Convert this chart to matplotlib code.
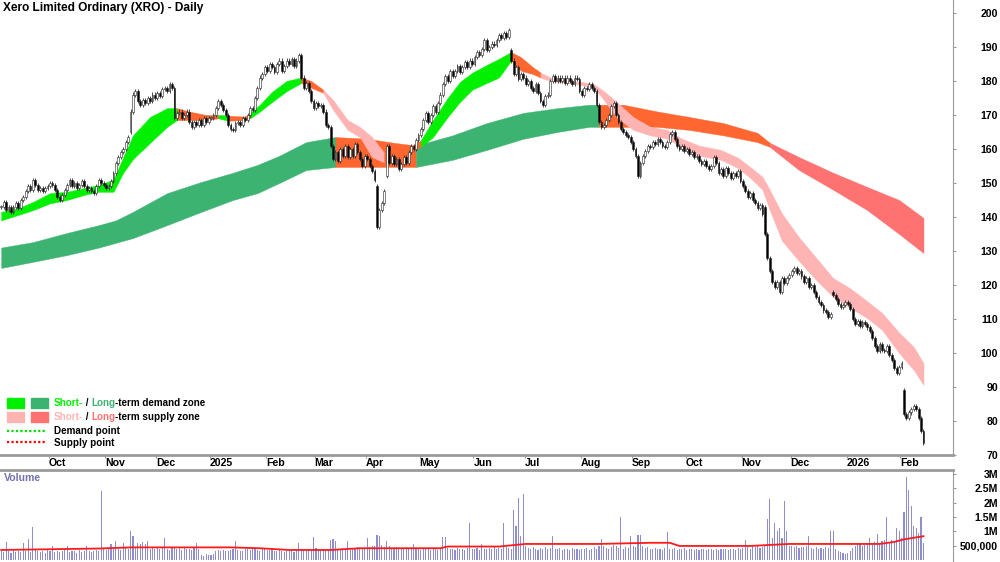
import numpy as np
import pandas as pd
import matplotlib
matplotlib.use("Agg")
import matplotlib.pyplot as plt
from matplotlib.patches import Rectangle
from matplotlib.lines import Line2D

plt.rcParams["font.family"] = ["Liberation Sans", "DejaVu Sans"]
plt.rcParams["font.weight"] = "bold"

TITLE = "Xero Limited Ordinary (XRO) - Daily"
FIRST_DAY = "2024-09-03"

# daily closes, one list per month
close_sep24 = [143, 144.5, 142, 143, 141.5, 143, 144, 142.5, 145, 146, 147.5, 149, 148, 151, 149.5, 148, 148.5, 147.5, 148.5, 149]
close_oct24 = [150, 149.5, 148, 146, 145, 146.5, 148, 149.5, 151, 149, 150, 148.5, 149.5, 150.5, 149, 148, 148.5, 147.5, 147, 149, 151, 150, 149.5]
close_nov24 = [148.5, 149, 150.5, 153, 156, 157.5, 159, 160, 162, 163.5, 171, 176, 177, 174, 173, 174.5, 173.5, 175, 174, 176, 175]
close_dec24 = [176.5, 175.5, 177.5, 178, 177, 179, 178, 169, 170.5, 171, 169, 170, 171, 168, 166.5, 168, 167, 168.5, 167, 169, 168, 169]
close_jan25 = [169, 170, 172, 174, 173, 171.5, 170, 167, 166, 165.5, 167.5, 168, 167, 169, 168.5, 170, 172, 171.5, 175, 178, 181, 182, 184]
close_feb25 = [183, 185, 184, 182.5, 185, 186, 183, 184.5, 186, 185, 186.5, 184.5, 186, 187.5, 181, 178, 179.5, 177, 174, 172]
close_mar25 = [173.5, 172.5, 173, 171, 167, 166.5, 161, 157, 159, 156.5, 160, 158, 161, 157.5, 160, 158, 161.5, 159, 157, 155, 158]
close_apr25 = [157, 155, 153.5, 151, 137, 142, 144, 147.5, 161, 156, 158, 155.5, 157, 154, 155.5, 157.5, 156, 159, 161, 160, 162.5, 164]
close_may25 = [166, 168.5, 170.5, 168, 170, 172.5, 171, 173.5, 176, 179, 181.5, 180, 183, 181.5, 183, 184.5, 182.5, 184, 185.5, 184, 186, 185]
close_jun25 = [187, 188.5, 187.5, 189.5, 192, 189, 190, 191, 190.5, 192, 193.5, 192.5, 194, 193, 195, 186, 182, 184, 180.5, 182, 181]
close_jul25 = [179, 180, 178, 177, 179, 176.5, 174, 173, 175.5, 176, 180, 181.5, 180, 181, 180, 181, 179.5, 181, 180, 179, 181, 180.5, 177]
close_aug25 = [176, 178, 177.5, 179, 178, 177, 173, 168, 166.5, 167, 168.5, 170, 172.5, 173.5, 170, 168, 166, 165, 164, 163.5, 162]
close_sep25 = [160, 158, 152, 156, 158, 159.5, 161, 160.5, 162, 161.5, 163, 162, 161, 160.5, 162, 164.5, 165, 163, 161, 160, 161, 159.5]
close_oct25 = [160, 158.5, 159, 157.5, 158, 156.5, 155.5, 156.5, 155, 154, 155, 157.5, 156, 153, 154, 152, 154.5, 153, 151.5, 153, 152, 153.5, 150.5]
close_nov25 = [149, 147.5, 146, 147, 145, 144, 142.5, 143.5, 141, 135, 128, 124, 121, 119.5, 121, 118, 122, 120.5, 122, 123]
close_dec25 = [124, 125, 123.5, 124, 122.5, 121, 122, 119.5, 120, 118, 116.5, 115, 114, 112.5, 112, 110.5, 111.5, 117, 116, 114.5, 113.5, 114, 115]
close_jan26 = [114.5, 113, 110, 108.5, 109.5, 108, 109, 108.5, 107.5, 106.5, 104.5, 102, 100.5, 102.5, 101, 100.5, 102, 99.5, 98, 95.5, 94, 96]
close_feb26 = [97, 82, 81, 82.5, 83.5, 84.5, 83.5, 81, 77, 73.5]

# opens where the bar gapped away from the previous close
gap_opens = {53: 165, 154: 149, 158: 152, 209: 189, 313: 143, 341: 118, 370: 89}

# daily volume, thousands of shares
vol_sep24 = [320, 280, 630, 300, 260, 340, 290, 310, 270, 600, 330, 730, 290, 1150, 350, 300, 280, 320, 260, 340]
vol_oct24 = [310, 500, 290, 330, 270, 300, 350, 500, 280, 320, 300, 260, 340, 290, 310, 500, 330, 280, 300, 360, 320, 2400, 380]
vol_nov24 = [340, 420, 550, 380, 650, 400, 360, 600, 420, 390, 1000, 850, 420, 600, 550, 620, 560, 650, 380, 420, 400]
vol_dec24 = [440, 390, 420, 780, 400, 360, 420, 450, 380, 410, 360, 430, 400, 380, 350, 420, 600, 390, 180, 150, 200, 170]
vol_jan25 = [160, 210, 320, 340, 300, 350, 330, 310, 360, 380, 650, 340, 320, 300, 380, 400, 360, 420, 380, 350, 330, 390, 370]
vol_feb25 = [360, 340, 380, 330, 300, 350, 320, 280, 300, 340, 310, 290, 360, 600, 380, 340, 330, 400, 350, 800]
vol_mar25 = [420, 380, 360, 400, 330, 350, 700, 720, 680, 400, 380, 420, 360, 670, 400, 380, 420, 450, 400, 380, 420]
vol_apr25 = [780, 450, 500, 480, 880, 820, 520, 460, 650, 480, 420, 400, 440, 380, 420, 400, 450, 420, 380, 550, 400, 420]
vol_may25 = [360, 400, 380, 420, 350, 380, 400, 360, 420, 800, 800, 420, 380, 400, 360, 420, 380, 400, 360, 420, 1280, 400]
vol_jun25 = [380, 420, 360, 570, 400, 380, 420, 400, 450, 380, 420, 400, 1280, 450, 420, 380, 1740, 1180, 2160, 850, 2320]
vol_jul25 = [480, 420, 380, 440, 400, 360, 420, 380, 450, 400, 420, 850, 400, 380, 420, 360, 400, 380, 350, 420, 380, 400, 360]
vol_aug25 = [400, 380, 420, 360, 400, 450, 380, 500, 720, 480, 420, 400, 450, 520, 480, 420, 1500, 400, 450, 420, 820]
vol_sep25 = [480, 450, 880, 880, 500, 420, 460, 400, 380, 420, 400, 380, 360, 420, 970, 400, 380, 420, 360, 400, 380, 420]
vol_oct25 = [360, 380, 400, 350, 380, 360, 400, 370, 350, 380, 400, 360, 380, 350, 400, 370, 380, 360, 400, 380, 350, 420, 400]
vol_nov25 = [420, 700, 440, 400, 480, 450, 500, 420, 460, 480, 1420, 2120, 750, 1280, 1000, 1100, 750, 2050, 1000, 500]
vol_dec25 = [480, 450, 500, 420, 460, 440, 480, 820, 420, 400, 450, 380, 420, 400, 450, 420, 1000, 1000, 380, 300, 280, 250, 220]
vol_jan26 = [240, 300, 420, 500, 600, 550, 480, 520, 600, 750, 560, 620, 900, 600, 650, 700, 1500, 620, 700, 650, 1120, 1000]
vol_feb26 = [750, 1670, 2880, 2450, 1900, 1200, 1100, 950, 1500, 600]

# volume moving average, read at bar numbers (millions)
vma_bar = [0, 40, 53, 94, 106, 118, 135, 147, 180, 183, 204, 215, 245, 266, 274, 278, 307, 323, 360, 366, 370, 378]
vma_val = [0.35, 0.40, 0.44, 0.44, 0.41, 0.35, 0.35, 0.41, 0.41, 0.47, 0.47, 0.56, 0.56, 0.60, 0.60, 0.49, 0.49, 0.56, 0.56, 0.63, 0.72, 0.83]

# short-term zone edges at bar numbers
short_bar = [0, 7, 13, 20, 27, 34, 40, 46, 50, 54, 61, 68, 72, 77, 84, 89, 93, 100, 102, 106,
             111, 117, 123, 127, 132, 136, 142, 147, 152, 157, 163, 169, 172, 177, 183, 188, 193, 199, 204, 209,
             213, 218, 221, 225, 232, 238, 243, 247, 252, 259, 266, 273, 279, 286, 295, 302, 307, 312, 315, 320,
             327, 334, 341, 348, 355, 361, 368, 374, 378]
short_hi = [141.5, 142.6, 144.4, 147, 147.4, 148.5, 149.4, 151, 157.6, 164, 169.4, 172, 172, 171, 170, 170, 169.8, 169.5, 170.6, 173,
            176.8, 180, 181, 180, 177.4, 174.4, 168.5, 166.5, 163.5, 158.8, 158, 161, 162.6, 168.5, 175, 179.7, 182.4, 184.7, 186.5, 188.5,
            187, 184, 182.5, 181, 180, 179.7, 179, 177, 174, 169.4, 166.5, 165.6, 163, 161, 159.7, 157.4, 154.7, 151.8, 148, 141,
            134, 128, 122, 119, 115.2, 111.8, 106, 101.8, 97]
short_lo = [139, 140.6, 142, 144, 145, 146.5, 147.4, 147.4, 153, 157, 161.8, 166.5, 168.5, 168.5, 168.5, 169, 168.3, 168.5, 169, 171,
            173.8, 177, 179.4, 178, 176.5, 171.5, 165.6, 163.5, 157.6, 156, 155.5, 159.7, 160.6, 163.5, 169.4, 173.8, 177.4, 179.4, 181, 186,
            183, 182, 181, 180, 179.4, 178.8, 178, 174.4, 169.4, 165.6, 164, 163, 160.6, 158, 156.8, 154.4, 151.5, 148, 142, 133,
            127, 121.5, 116.5, 113.3, 110.2, 106.8, 100, 95, 90.6]
short_state = [(0, 72, "sd"), (72, 89, "mix"), (89, 93, "sd"), (93, 102, "mix"), (102, 123, "sd"),
               (123, 132, "mix"), (132, 157, "ss"), (157, 172, "mix"), (172, 209, "sd"),
               (209, 221, "mix"), (221, 378, "ss")]

# long-term zone edges at bar numbers
long_bar = [0, 13, 27, 40, 47, 54, 68, 82, 95, 105, 114, 125, 137, 150, 161, 170, 185, 199, 214, 228,
            241, 245, 255, 269, 282, 296, 310, 315, 327, 341, 355, 368, 378]
long_hi = [131, 132.6, 135.3, 137.6, 139, 141.5, 147, 150.3, 153, 155.3, 158, 162, 163.5, 163, 161.8, 161, 164, 167.6, 170.6, 172,
           173, 173, 173, 171, 169.4, 167.6, 164.7, 161.8, 157.6, 153, 148.8, 145, 139.7]
long_lo = [125, 126.8, 128.8, 131, 132.4, 133.8, 137.6, 141.5, 145, 147, 150, 153.8, 154.7, 154.7, 154.7, 154.7, 156.8, 159.7, 163, 165,
           166.5, 166.5, 166.5, 166.5, 165.6, 164, 162, 160.6, 153.8, 148, 142, 135, 129.4]
long_state = [(0, 137, "ld"), (137, 170, "mix"), (170, 245, "ld"), (245, 315, "mix"), (315, 378, "ls")]

ZONE_COLORS = {"sd": "#00F000", "ld": "#3CB371", "ss": "#FFB4B4", "ls": "#FF7272", "mix": "#FF6630"}

closes = (close_sep24 + close_oct24 + close_nov24 + close_dec24 + close_jan25 + close_feb25 + close_mar25
          + close_apr25 + close_may25 + close_jun25 + close_jul25 + close_aug25 + close_sep25 + close_oct25
          + close_nov25 + close_dec25 + close_jan26 + close_feb26)
volume = (vol_sep24 + vol_oct24 + vol_nov24 + vol_dec24 + vol_jan25 + vol_feb25 + vol_mar25 + vol_apr25
          + vol_may25 + vol_jun25 + vol_jul25 + vol_aug25 + vol_sep25 + vol_oct25 + vol_nov25 + vol_dec25
          + vol_jan26 + vol_feb26)

closes = np.array(closes, dtype=float)
volume = np.array(volume, dtype=float) * 1000
n = len(closes)
bars = np.arange(n)
dates = pd.bdate_range(FIRST_DAY, periods=n)

opens = np.concatenate([[closes[0]], closes[:-1]])
for k, v in gap_opens.items():
    opens[k] = v

W, H = 1000, 562
fx = lambda px: px / W
fy = lambda py: 1 - py / H
GRID = "#9a9a9a"
FS = 7.6
LEG_FS = 7.1

fig = plt.figure(figsize=(10, 5.62), dpi=100)
ax = fig.add_axes([0, fy(455), fx(953), 455 / H])
axv = fig.add_axes([0, 0, fx(953), (H - 470) / H], sharex=ax)

# zones
for bx, hi, lo, states in [(long_bar, long_hi, long_lo, long_state),
                           (short_bar, short_hi, short_lo, short_state)]:
    bx, hi, lo = np.array(bx), np.array(hi), np.array(lo)
    for s, e, key in states:
        m = (bx >= s) & (bx <= e)
        ax.fill_between(bx[m], lo[m], hi[m], color=ZONE_COLORS[key], lw=0.3, zorder=2)

# candles
up = closes >= opens
body_lo = np.minimum(opens, closes)
body_hi = np.maximum(opens, closes)
ax.vlines(bars, body_lo - 0.6, body_hi + 0.6, color="#303030", lw=0.6, zorder=3)
ax.bar(bars, np.maximum(body_hi - body_lo, 0.3), 0.75, bottom=body_lo,
       color=np.where(up, "white", "black"), edgecolor="#202020", lw=0.4, zorder=4)

ax.set_xlim(-0.5, 390.1)
ax.set_ylim(70, 203.8)

# month ticks
month_start = [i for i in range(1, n) if dates[i].month != dates[i - 1].month]
month_lbl = [str(dates[i].year) if dates[i].month == 1 else dates[i].strftime("%b") for i in month_start]
ax.set_xticks(np.array(month_start) - 0.5, month_lbl)
for t in ax.get_xticklabels():
    t.set_ha("left")
ax.tick_params(axis="x", direction="out", length=2, width=0.8, color=GRID, pad=0.5, labelsize=FS)

ax.yaxis.tick_right()
ax.set_yticks(range(70, 201, 10))
ax.tick_params(axis="y", direction="out", length=2, width=0.8, color=GRID, pad=30.5, labelsize=FS)
for t in ax.get_yticklabels():
    t.set_ha("right")

for s in ["top", "left"]:
    ax.spines[s].set_visible(False)
ax.spines["right"].set_color(GRID)
ax.spines["bottom"].set_color(GRID)
ax.spines["bottom"].set_linewidth(2)

# volume
axv.bar(bars, volume, 0.45, color="#8E8ECC", lw=0)
axv.plot(vma_bar, np.array(vma_val) * 1e6, color="#FF1A1A", lw=1.3)
axv.set_ylim(-0.07e6, 3.14e6)
axv.yaxis.tick_right()
axv.set_yticks([0.5e6, 1e6, 1.5e6, 2e6, 2.5e6, 3e6], ["500,000", "1M", "1.5M", "2M", "2.5M", "3M"])
axv.tick_params(axis="y", direction="out", length=2, width=0.8, color=GRID, pad=30.5, labelsize=FS)
for t in axv.get_yticklabels():
    t.set_ha("right")
axv.tick_params(axis="x", length=0, labelbottom=False)
for s in ["bottom", "left"]:
    axv.spines[s].set_visible(False)
axv.spines["right"].set_color(GRID)
axv.spines["top"].set_color(GRID)
axv.spines["top"].set_linewidth(2)
fig.text(fx(4), fy(478), "Volume", color="#7272B0", fontsize=FS, fontweight="bold", va="center")

fig.text(fx(3), fy(8), TITLE, fontsize=8.6, fontweight="bold", va="center")

# legend
renderer = fig.canvas.get_renderer()


def multi_text(x, y, parts):
    for txt, col in parts:
        t = fig.text(fx(x), fy(y), txt, color=col, fontsize=LEG_FS, fontweight="bold", va="center")
        x = t.get_window_extent(renderer).x1


fig.add_artist(Rectangle((fx(7), fy(408)), fx(17), 10 / H, color=ZONE_COLORS["sd"], transform=fig.transFigure))
fig.add_artist(Rectangle((fx(31), fy(408)), fx(17), 10 / H, color=ZONE_COLORS["ld"], transform=fig.transFigure))
fig.add_artist(Rectangle((fx(7), fy(422)), fx(17), 10 / H, color=ZONE_COLORS["ss"], transform=fig.transFigure))
fig.add_artist(Rectangle((fx(31), fy(422)), fx(17), 10 / H, color=ZONE_COLORS["ls"], transform=fig.transFigure))
fig.add_artist(Line2D([fx(7), fx(47)], [fy(431)] * 2, color="#00E000", lw=1.6, ls=(0, (1, 1)), transform=fig.transFigure))
fig.add_artist(Line2D([fx(7), fx(47)], [fy(442)] * 2, color="#FF0000", lw=1.6, ls=(0, (1, 1)), transform=fig.transFigure))
multi_text(54, 403, [("Short-", ZONE_COLORS["sd"]), (" / ", "black"), ("Long", ZONE_COLORS["ld"]), ("-term demand zone", "black")])
multi_text(54, 417, [("Short-", ZONE_COLORS["ss"]), (" / ", "black"), ("Long", ZONE_COLORS["ls"]), ("-term supply zone", "black")])
multi_text(54, 431, [("Demand point", "black")])
multi_text(54, 443, [("Supply point", "black")])

fig.savefig("out.png", dpi=100)
